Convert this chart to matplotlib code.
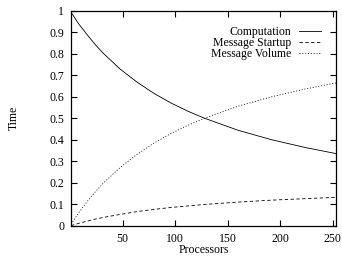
import matplotlib.pyplot as plt
import numpy as np

plt.rcParams["font.family"] = ["Liberation Serif", "DejaVu Serif"]

processors = [1, 2, 4, 8, 16, 24, 32, 48, 64, 80, 96, 112, 128, 160, 192, 224, 253]
computation = [0.99, 0.985, 0.97, 0.94, 0.89, 0.842, 0.80, 0.727, 0.667, 0.615, 0.571, 0.533, 0.50,
               0.444, 0.40, 0.364, 0.336]
msg_startup = [0.0016, 0.003, 0.006, 0.012, 0.022, 0.032, 0.040, 0.054, 0.067, 0.077, 0.086, 0.093, 0.100,
               0.111, 0.120, 0.127, 0.133]
msg_volume = [0.008, 0.015, 0.03, 0.059, 0.111, 0.158, 0.20, 0.273, 0.333, 0.385, 0.429, 0.467, 0.50,
              0.556, 0.60, 0.636, 0.664]

fs = 8.5

fig = plt.figure(figsize=(3.42, 2.56), dpi=100)
ax = fig.add_axes([71 / 342, 1 - 226 / 256, 265 / 342, 215.5 / 256])

lw = 0.6
ax.plot(processors, computation, color="black", lw=lw, label="Computation")
ax.plot(processors, msg_startup, color="black", lw=lw, dashes=(4, 3), label="Message Startup")
ax.plot(processors, msg_volume, color="black", lw=lw, dashes=(1.2, 2.2), label="Message Volume")

ax.set_xlim(1, 253)
ax.set_ylim(0, 1)
ax.set_xticks([50, 100, 150, 200, 250])
ax.set_yticks(np.arange(0, 1.01, 0.1))
ax.set_yticklabels(["0", "0.1", "0.2", "0.3", "0.4", "0.5", "0.6", "0.7", "0.8", "0.9", "1"])
ax.tick_params(direction="in", top=True, right=True, length=4, width=0.8, labelsize=fs, pad=5)
for s in ax.spines.values():
    s.set_linewidth(0.9)

ax.set_xlabel("Processors", fontsize=fs, labelpad=-1)
ax.set_ylabel("Time", fontsize=fs, labelpad=21)

leg = ax.legend(loc="upper right", frameon=False, fontsize=fs, markerfirst=False,
                handlelength=1.85, handletextpad=0.68, labelspacing=-0.1,
                bbox_to_anchor=(0.962, 0.95), borderaxespad=0)
for t in leg.get_texts():
    t.set_ha("right")

fig.savefig("out.png", dpi=100)
